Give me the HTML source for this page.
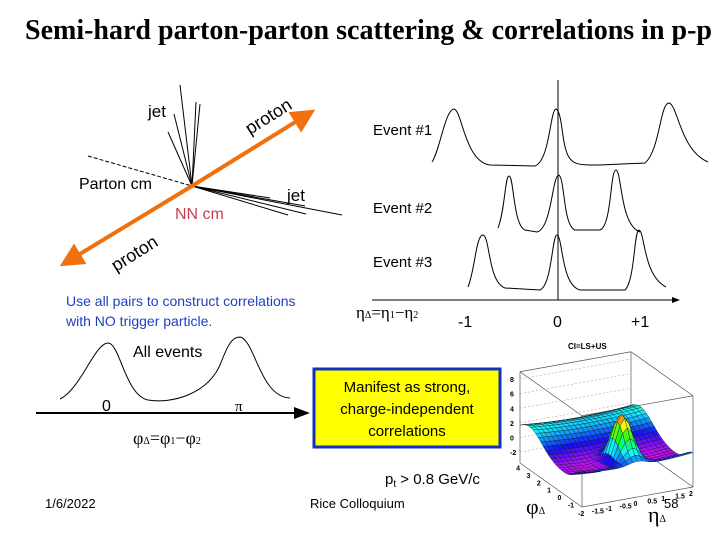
<!DOCTYPE html>
<html><head><meta charset="utf-8"><style>
body{margin:0;width:720px;height:540px;overflow:hidden;background:#fff;position:relative;font-family:"Liberation Sans",sans-serif}
.t{position:absolute;white-space:nowrap}
</style></head><body>
<div class="t" style="left:25px;top:15px;font-family:'Liberation Serif',serif;font-weight:bold;font-size:28px">Semi-hard parton-parton scattering &amp; correlations in p-p</div>
<svg width="720" height="540" style="position:absolute;left:0;top:0">
<defs><marker id="oa" markerWidth="6" markerHeight="6" refX="3" refY="3" orient="auto"><path d="M0,0L6,3L0,6Z" fill="#f07010"/></marker>
<marker id="ka" markerWidth="8" markerHeight="8" refX="6" refY="4" orient="auto"><path d="M0,1L8,4L0,7Z" fill="#000"/></marker></defs>
<g stroke="#000" stroke-width="1" fill="none">
<line x1="192" y1="186" x2="180" y2="85"/><line x1="192" y1="186" x2="196" y2="102"/><line x1="192" y1="186" x2="174" y2="114"/><line x1="192" y1="186" x2="168" y2="132"/><line x1="192" y1="186" x2="200" y2="104"/>
<line x1="192" y1="186" x2="342" y2="215"/><line x1="192" y1="186" x2="305" y2="206"/><line x1="192" y1="186" x2="288" y2="215"/><line x1="192" y1="186" x2="306" y2="214"/><line x1="192" y1="186" x2="270" y2="198"/>
<line x1="88" y1="156" x2="192" y2="186" stroke-dasharray="4,2"/>
<line x1="192" y1="186" x2="305" y2="116" stroke="#f07010" stroke-width="4" marker-end="url(#oa)"/>
<line x1="192" y1="186" x2="70" y2="260" stroke="#f07010" stroke-width="4" marker-end="url(#oa)"/>
</g>
<text x="148" y="117" font-size="17">jet</text>
<text x="287" y="201" font-size="17">jet</text>
<text x="79" y="189" font-size="16">Parton cm</text>
<text x="175" y="219" font-size="16" fill="#c84050">NN cm</text>
<text x="0" y="0" font-size="18" transform="translate(250,135) rotate(-32)">proton</text>
<text x="0" y="0" font-size="18" transform="translate(116,272) rotate(-32)">proton</text>
<g fill="none" stroke="#000" stroke-width="1">
<line x1="558" y1="80" x2="558" y2="300"/>
<line x1="372" y1="300" x2="678" y2="300" marker-end="url(#ka)"/>
<path d="M432,162 C440,150 445,110 454,109 C462,110 465,162 490,165 L535,166 C550,160 550,110 556,109 C562,112 562,140 566,150 C570,166 580,165 600,165 L645,163 C660,150 660,103 669,103 C678,105 680,150 708,162"/>
<path d="M498,228 C505,210 505,176 509,176 C514,176 513,225 525,230 L537,232 C552,228 552,175 559,175 C565,180 563,225 575,230 L600,230 C612,225 610,170 616,170 C622,172 620,225 640,232"/>
<path d="M468,287 C475,270 476,235 483,235 C490,236 488,282 505,288 L540,290 C552,285 552,235 557,235 C563,237 561,285 580,290 L625,290 C635,280 634,230 639,230 C645,232 643,275 666,287"/>
</g>
<text x="373" y="135" font-size="15">Event #1</text>
<text x="373" y="213" font-size="15">Event #2</text>
<text x="373" y="267" font-size="15">Event #3</text>
<text x="356" y="318" font-size="17" font-family="Liberation Serif,serif">η<tspan font-size="10">Δ</tspan>=η<tspan font-size="10">1</tspan>−η<tspan font-size="10">2</tspan></text>
<text x="458" y="327" font-size="16">-1</text>
<text x="553" y="327" font-size="16">0</text>
<text x="631" y="327" font-size="16">+1</text>
<text x="66" y="306" font-size="14" fill="#2040c0">Use all pairs to construct correlations</text>
<text x="66" y="326" font-size="14" fill="#2040c0">with NO trigger particle.</text>
<g fill="none" stroke="#000">
<line x1="36" y1="413" x2="306" y2="413" stroke-width="2" marker-end="url(#ka)"/>
<path d="M60,399 C80,390 95,343 108,343 C120,343 125,395 148,400 C170,404 210,395 222,360 C228,345 232,337 240,337 C255,340 260,397 290,398" stroke-width="1"/>
</g>
<text x="133" y="357" font-size="16">All events</text>
<text x="102" y="411" font-size="16">0</text>
<text x="235" y="411" font-size="15" font-family="Liberation Serif,serif">π</text>
<text x="133" y="444" font-size="18" font-family="Liberation Serif,serif">φ<tspan font-size="10">Δ</tspan>=φ<tspan font-size="10">1</tspan>−φ<tspan font-size="10">2</tspan></text>
<rect x="314" y="369" width="186" height="78" fill="#ffff00" stroke="#1030c0" stroke-width="3"/>
<text x="407" y="392" font-size="15" text-anchor="middle">Manifest as strong,</text>
<text x="407" y="414" font-size="15" text-anchor="middle">charge-independent</text>
<text x="407" y="436" font-size="15" text-anchor="middle">correlations</text>
<text x="385" y="484" font-size="15">p<tspan font-size="10" dy="3">t</tspan><tspan dy="-3"> &gt; 0.8 GeV/c</tspan></text>
<g id="plot3d"></g>
<text x="568" y="349" font-size="8" font-weight="bold">CI=LS+US</text>
<text x="526" y="514" font-size="22" font-family="Liberation Serif,serif">φ<tspan font-size="10">Δ</tspan></text>
<text x="648" y="522" font-size="22" font-family="Liberation Serif,serif">η<tspan font-size="10">Δ</tspan></text>
<text x="45" y="508" font-size="13">1/6/2022</text>
<text x="310" y="508" font-size="13">Rice Colloquium</text>
<text x="664" y="508" font-size="13">58</text>
</svg>
<script>
const etaTicks=[-2,-1.5,-1,-0.5,0,0.5,1,1.5,2];
const phiTicks=[-1,0,1,2,3,4];
const zTicks=[-2,0,2,4,6,8];
const g=document.getElementById('plot3d');
const NS='http://www.w3.org/2000/svg';
function P(eta,phi,z){const u=(eta+2)/4,v=(phi+1.5)/6;return [582+111*u-62*v,507-20*u-44*v-(z+3.5)*7.3];}
function el(t,a){const e=document.createElementNS(NS,t);for(const k in a)e.setAttribute(k,a[k]);g.appendChild(e);return e;}
let b1=P(-2,4.5,-3.5),b2=P(2,4.5,-3.5),t1=P(-2,4.5,9),t2=P(2,4.5,9),l1=P(-2,-1.5,9),r1=P(2,-1.5,9),l0=P(-2,-1.5,-3.5),r0=P(2,-1.5,-3.5);
[[t1,t2],[t1,b1],[t2,b2],[t1,l1],[t2,r1],[l1,l0],[r1,r0],[l0,r0],[l0,b1],[r0,b2],[l1,r1]].forEach(s=>{el('line',{x1:s[0][0],y1:s[0][1],x2:s[1][0],y2:s[1][1],stroke:'#555','stroke-width':0.7});});
zTicks.forEach(z=>{const p=P(-2,4.5,z),q=P(2,4.5,z);el('line',{x1:p[0],y1:p[1],x2:q[0],y2:q[1],stroke:'#999','stroke-width':0.5,'stroke-dasharray':'2,2'});
const t=el('text',{x:p[0]-10,y:p[1]+3,'font-size':7,'font-weight':'bold'});t.textContent=z;});
etaTicks.forEach(e=>{const p=P(e,-1.5,-3.5);const t=el('text',{x:p[0]-4,y:p[1]+9,'font-size':7,'font-weight':'bold'});t.textContent=e;});
phiTicks.forEach(f=>{const p=P(-2,f,-3.5);const t=el('text',{x:p[0]-9,y:p[1]+4,'font-size':7,'font-weight':'bold'});t.textContent=f;});
function Z(eta,phi){return -1.0+3.0*Math.exp(-Math.pow(phi-3.6,2)/3)+1.8*Math.exp(-Math.pow(phi+1.5,2)/0.8)+0.4*eta*eta/4+7.2*Math.exp(-(eta*eta)/0.2-(phi*phi)/0.9);}
function col(z){let h=300-37.5*(z+1);h=Math.max(0,Math.min(300,h));return 'hsl('+h+',95%,52%)';}
const N=24,quads=[];
for(let i=0;i<N;i++)for(let j=0;j<N;j++){const e0=-2+4*i/N,e1=-2+4*(i+1)/N,f0=4.5-6*j/N,f1=4.5-6*(j+1)/N;
const pts=[[e0,f0],[e1,f0],[e1,f1],[e0,f1]].map(a=>P(a[0],a[1],Z(a[0],a[1])));
const zc=Z((e0+e1)/2,(f0+f1)/2);quads.push({pts,zc,d:j-(i<N/2?i:N-i)*0.001});}
quads.sort((a,b)=>a.d-b.d);
quads.forEach(q=>{el('polygon',{points:q.pts.map(p=>p.join(',')).join(' '),fill:col(q.zc),stroke:'#112','stroke-width':0.35});});
</script>
</body></html>
